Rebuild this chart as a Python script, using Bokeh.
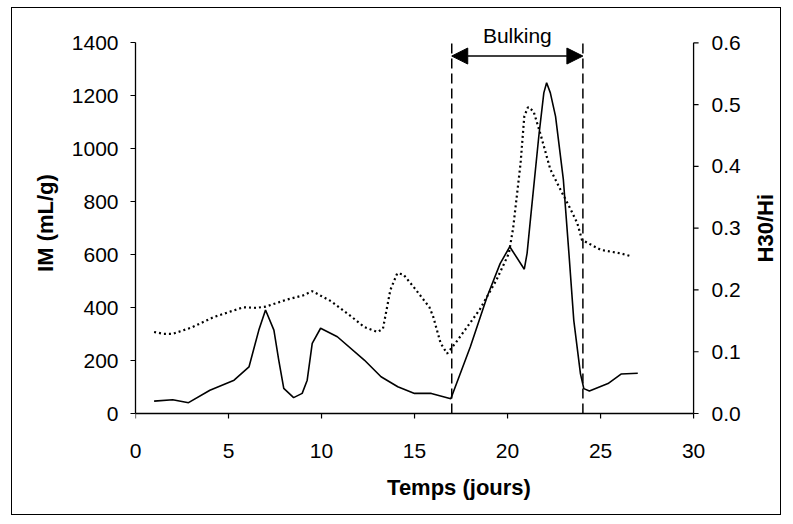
import math
from bokeh.plotting import figure
from bokeh.models import Range1d, FixedTicker, Arrow, NormalHead, ColumnDataSource
from bokeh.core.properties import value
from bokeh.embed import file_html
from bokeh.resources import INLINE

# ---- data ----
im_days = [1.0, 2.0, 2.85, 4.0, 5.3, 6.1, 6.63, 6.99, 7.44, 7.7, 7.97, 8.5, 8.96, 9.23, 9.5, 9.95,
           10.85, 12.3, 13.2, 14.1, 15.0, 15.9, 16.95, 18.0, 18.9, 19.6, 20.12, 20.9, 21.05, 21.24,
           21.68, 21.95, 22.1, 22.3, 22.58, 23.0, 23.3, 23.56, 23.92, 24.1, 24.4, 25.4, 26.1, 27.0]
im_values = [47, 52, 41, 88, 126, 176, 315, 391, 315, 202, 95, 60, 76, 126, 265, 322,
             290, 202, 139, 101, 76, 76, 56, 252, 441, 566, 630, 545, 605, 740,
             1047, 1211, 1249, 1211, 1122, 883, 604, 352, 150, 94, 85, 113, 149, 152]

h_days = [1.0, 1.5, 2.0, 3.0, 4.2, 5.8, 6.5, 7.0, 8.1, 9.0, 9.5, 10.5, 11.6, 12.3, 13.0, 13.3,
          13.7, 14.07, 14.4, 15.0, 15.8, 16.0, 16.4, 16.75, 17.2, 18.5, 19.4, 20.07, 20.3, 20.7,
          20.9, 21.1, 21.4, 21.8, 22.3, 22.85, 23.4, 23.75, 24.0, 25.0, 26.1, 26.7]
h_values = [0.132, 0.129, 0.129, 0.139, 0.156, 0.172, 0.171, 0.173, 0.184, 0.191, 0.198, 0.182,
            0.157, 0.140, 0.132, 0.137, 0.200, 0.227, 0.225, 0.203, 0.172, 0.157, 0.114, 0.097,
            0.114, 0.168, 0.216, 0.259, 0.300, 0.405, 0.481, 0.496, 0.489, 0.449, 0.395, 0.362,
            0.330, 0.308, 0.281, 0.265, 0.259, 0.254]

bulking_start = 17.0
bulking_end = 24.05
bulking_label = "Bulking"
x_ticks = [0, 5, 10, 15, 20, 25, 30]
im_ticks = [0, 200, 400, 600, 800, 1000, 1200, 1400]
h_ticks = [0.0, 0.1, 0.2, 0.3, 0.4, 0.5, 0.6]
h_tick_labels = ["0.0", "0.1", "0.2", "0.3", "0.4", "0.5", "0.6"]

X_MAX = 30
IM_MAX = 1400
H_MAX = 0.6
PX_PER_DAY = 18.6
PX_PER_IM = 0.265
Y_TOP = 1488      # room above the axes for the "Bulking" annotation
Y_BOT = -49       # small room below zero so the lowest right-hand label is not cut
X_END = 34.78     # room right of the right-hand axis for its labels and title

FONT = "Liberation Sans"

p = figure(width=770, height=508, output_backend="svg", toolbar_location=None,
           x_range=Range1d(0, X_END), y_range=Range1d(Y_BOT, Y_TOP),
           min_border_left=123, min_border_right=0, min_border_top=11, min_border_bottom=90,
           background_fill_color="white", border_fill_color="white")
p.outline_line_color = None
p.grid.visible = False
p.styles = {"border": "1.5px solid black", "margin": "7px 0px 0px 11px"}

p.extra_y_ranges = {"h": Range1d(H_MAX * Y_BOT / IM_MAX, H_MAX * Y_TOP / IM_MAX)}

# axes styling
def style_axis(ax):
    ax.axis_line_color = "black"
    ax.axis_line_width = 1.3
    ax.major_tick_line_color = "black"
    ax.major_tick_line_width = 1.2
    ax.major_tick_in = 0
    ax.major_tick_out = 5
    ax.minor_tick_line_color = None
    ax.major_label_text_font = FONT
    ax.major_label_text_font_size = "21px"
    ax.major_label_text_color = "black"
    ax.axis_label_text_font = FONT
    ax.axis_label_text_font_size = "22px"
    ax.axis_label_text_font_style = "bold"
    ax.axis_label_text_color = "black"

# bottom axis: labels from Bokeh, its line and ticks are drawn at IM = 0 below
xa = p.xaxis[0]
style_axis(xa)
xa.ticker = FixedTicker(ticks=x_ticks)
xa.axis_line_color = None
xa.major_tick_line_color = None
xa.major_tick_out = 0
xa.axis_label = "Temps (jours)"
xa.major_label_standoff = 17
xa.axis_label_standoff = 14

ya = p.yaxis[0]
style_axis(ya)
ya.ticker = FixedTicker(ticks=im_ticks)
ya.bounds = (0, IM_MAX)
ya.axis_label = "IM (mL/g)"
ya.major_label_standoff = 12
ya.axis_label_standoff = 11

# x-axis line and ticks at IM = 0
p.segment(x0=[0], y0=[0], x1=[X_MAX], y1=[0], line_color="black", line_width=1.3)
p.segment(x0=x_ticks, y0=[0] * len(x_ticks), x1=x_ticks,
          y1=[-5 / PX_PER_IM] * len(x_ticks), line_color="black", line_width=1.2)

# ---- right-hand axis (H30/Hi), drawn on the secondary range ----
p.segment(x0=[X_MAX], y0=[0], x1=[X_MAX], y1=[H_MAX], y_range_name="h",
          line_color="black", line_width=1.3)
p.segment(x0=[X_MAX] * len(h_ticks), y0=h_ticks,
          x1=[X_MAX + 5 / PX_PER_DAY] * len(h_ticks), y1=h_ticks, y_range_name="h",
          line_color="black", line_width=1.2)
p.text(x=[X_MAX + 18 / PX_PER_DAY] * len(h_ticks), y=h_ticks, text=h_tick_labels,
       y_range_name="h", text_font=value(FONT), text_font_size="21px",
       text_align="left", text_baseline="middle", text_color="black")
p.text(x=[X_MAX + 72 / PX_PER_DAY], y=[H_MAX / 2], text=["H30/Hi"], y_range_name="h",
       angle=math.pi / 2, text_font=value(FONT), text_font_size="22px",
       text_font_style="bold", text_align="center", text_baseline="middle", text_color="black")

# series
p.line(im_days, im_values, line_color="black", line_width=1.6)
p.line(h_days, h_values, y_range_name="h", line_color="black", line_width=2.2, line_dash="2 3")

# bulking markers
vsrc = ColumnDataSource(dict(x=[bulking_start, bulking_end], y0=[0, 0], y1=[IM_MAX, IM_MAX]))
p.segment(x0="x", y0="y0", x1="x", y1="y1", source=vsrc,
          line_color="black", line_width=1.5, line_dash="10 5")

arrow_y = 1350
p.add_layout(Arrow(x_start=bulking_start, y_start=arrow_y, x_end=bulking_end, y_end=arrow_y,
                   line_color="black", line_width=1.6,
                   start=NormalHead(size=16, fill_color="black", line_color="black"),
                   end=NormalHead(size=16, fill_color="black", line_color="black")))

p.text(x=[(bulking_start + bulking_end) / 2], y=[1426], text=[bulking_label],
       text_font=value(FONT), text_font_size="21px", text_align="center",
       text_baseline="alphabetic", text_color="black")

open("out.html", "w").write(file_html(p, INLINE))
